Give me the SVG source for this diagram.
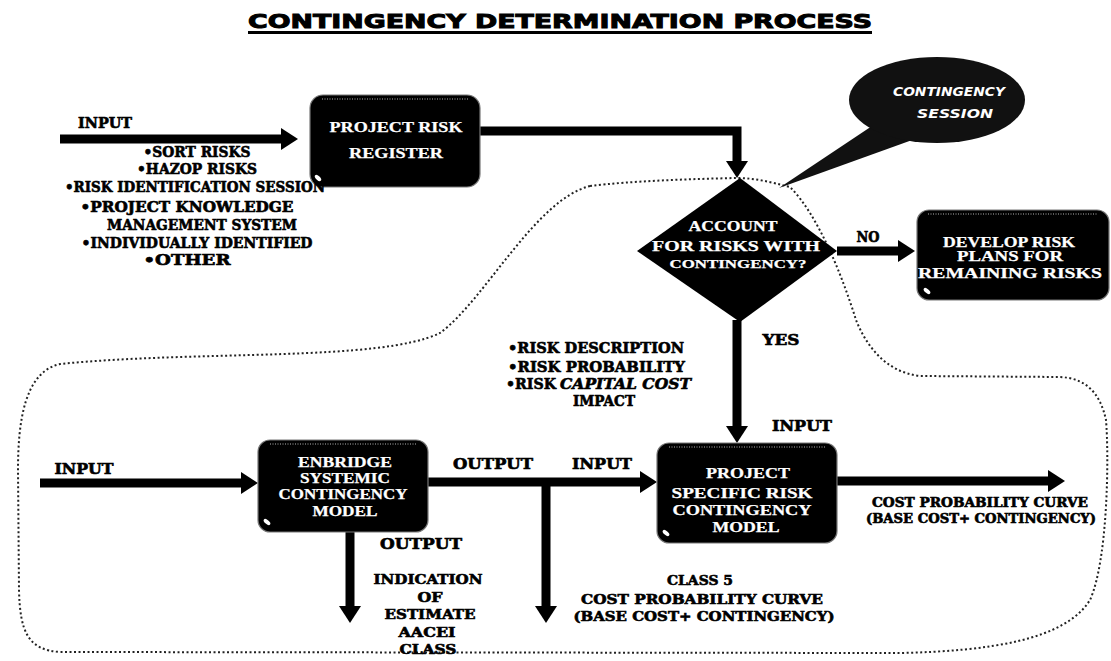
<svg xmlns="http://www.w3.org/2000/svg" width="1111" height="661" viewBox="0 0 1111 661">
<defs>
<marker id="ah" viewBox="0 -12 18 24" refX="0" refY="0" markerWidth="18" markerHeight="24" markerUnits="userSpaceOnUse" orient="auto">
<path d="M0,-11 L17,0 L0,11 Z" fill="#000"/>
</marker>
</defs>
<style>
.t{font-family:"DejaVu Serif","Liberation Serif",serif;font-weight:bold;fill:#000;stroke:#000;stroke-width:0.6;}
.w{font-family:"Liberation Serif","DejaVu Serif",serif;font-weight:bold;fill:#fff;stroke:#fff;stroke-width:0.25;}
.box{fill:#000;stroke:#777;stroke-width:1.2;}
.hl{fill:none;stroke:#fff;stroke-width:1;stroke-dasharray:1 1.5;opacity:0.7;}
.pin{fill:#fff;}
.c{fill:none;stroke:#000;stroke-width:9;stroke-linejoin:miter;marker-end:url(#ah);}
.dot{fill:none;stroke:#222;stroke-width:2;stroke-dasharray:2 2.5;}
</style>
<rect width="1111" height="661" fill="#fff"/>

<g id="title">
<text x="560" y="28" text-anchor="middle" font-family="DejaVu Sans, Liberation Sans, sans-serif" font-weight="bold" font-size="20" stroke="#000" stroke-width="1" textLength="624" lengthAdjust="spacingAndGlyphs">CONTINGENCY DETERMINATION PROCESS</text>
<rect x="248" y="31" width="624" height="3" fill="#000"/>
</g>

<g id="session-boundary">
<path class="dot" d="M590,186 C535,200 485,300 440,333 C380,362 200,350 60,364 C25,372 18,420 18,470 L19,590 C20,632 28,650 60,652 L900,653 C990,651 1065,640 1090,600 C1108,560 1109,455 1106,420 C1100,392 1085,378 1060,377 L920,376 C885,372 866,345 856,320 C842,275 818,215 790,187 C770,182 755,178 737,178 C690,179 630,181 590,186 Z"/>
</g>

<g id="callout">
<polygon points="872,126 779,188 915,139" fill="#111"/>
<ellipse cx="937" cy="100" rx="88" ry="43" fill="#111"/>
<text x="949" y="96" text-anchor="middle" font-family="DejaVu Sans, sans-serif" font-weight="bold" font-style="italic" font-size="13" fill="#fff" textLength="112" lengthAdjust="spacingAndGlyphs">CONTINGENCY</text>
<text x="955" y="118" text-anchor="middle" font-family="DejaVu Sans, sans-serif" font-weight="bold" font-style="italic" font-size="13" fill="#fff" textLength="76" lengthAdjust="spacingAndGlyphs">SESSION</text>
</g>

<g id="connectors">
<path class="c" d="M60,139 H281"/>
<path class="c" d="M480,131 H737 V161"/>
<path class="c" d="M837,251 H898"/>
<path class="c" d="M737,320 V426"/>
<path class="c" d="M40,483 H241"/>
<path class="c" d="M428,482 H640"/>
<path class="c" d="M546,482 V606"/>
<path class="c" d="M350,530 V606"/>
<path class="c" d="M837,481 H1048"/>
</g>

<g id="register">
<rect class="box" x="310" y="95" width="170" height="92" rx="13"/>
<line class="hl" x1="322" y1="99" x2="468" y2="99"/>
<ellipse class="pin" cx="318" cy="178" rx="4" ry="2" transform="rotate(45 318 178)"/>
<text class="w" x="396" y="132" text-anchor="middle" font-size="15" textLength="133" lengthAdjust="spacingAndGlyphs">PROJECT  RISK</text>
<text class="w" x="396" y="158" text-anchor="middle" font-size="15" textLength="94" lengthAdjust="spacingAndGlyphs">REGISTER</text>
</g>

<g id="decision">
<polygon points="740,178 837,251 740,322 637,251" fill="#000"/>
<text class="w" x="733" y="231" text-anchor="middle" font-size="14" textLength="89" lengthAdjust="spacingAndGlyphs">ACCOUNT</text>
<text class="w" x="736" y="251" text-anchor="middle" font-size="14" textLength="168" lengthAdjust="spacingAndGlyphs">FOR RISKS WITH</text>
<text class="w" x="738" y="268" text-anchor="middle" font-size="12.5" textLength="137" lengthAdjust="spacingAndGlyphs">CONTINGENCY?</text>
</g>

<g id="develop">
<rect class="box" x="917" y="210" width="192" height="90" rx="12"/>
<line class="hl" x1="928" y1="214" x2="1098" y2="214"/>
<ellipse class="pin" cx="927" cy="291" rx="4" ry="2" transform="rotate(40 927 291)"/>
<text class="w" x="1009" y="247" text-anchor="middle" font-size="14" textLength="132" lengthAdjust="spacingAndGlyphs">DEVELOP RISK</text>
<text class="w" x="1010" y="261" text-anchor="middle" font-size="14" textLength="106" lengthAdjust="spacingAndGlyphs">PLANS FOR</text>
<text class="w" x="1010" y="278" text-anchor="middle" font-size="14" textLength="184" lengthAdjust="spacingAndGlyphs">REMAINING RISKS</text>
</g>

<g id="enbridge">
<rect class="box" x="258" y="440" width="170" height="92" rx="12"/>
<line class="hl" x1="270" y1="444" x2="416" y2="444"/>
<ellipse class="pin" cx="267" cy="522" rx="4" ry="2" transform="rotate(40 267 522)"/>
<text class="w" x="345" y="467" text-anchor="middle" font-size="14" textLength="94" lengthAdjust="spacingAndGlyphs">ENBRIDGE</text>
<text class="w" x="345" y="483" text-anchor="middle" font-size="14" textLength="90" lengthAdjust="spacingAndGlyphs">SYSTEMIC</text>
<text class="w" x="343" y="499" text-anchor="middle" font-size="14" textLength="129" lengthAdjust="spacingAndGlyphs">CONTINGENCY</text>
<text class="w" x="345" y="516" text-anchor="middle" font-size="14" textLength="65" lengthAdjust="spacingAndGlyphs">MODEL</text>
</g>

<g id="specific">
<rect class="box" x="657" y="443" width="180" height="100" rx="12"/>
<line class="hl" x1="669" y1="447" x2="825" y2="447"/>
<ellipse class="pin" cx="666" cy="533" rx="4" ry="2" transform="rotate(40 666 533)"/>
<text class="w" x="748" y="478" text-anchor="middle" font-size="14" textLength="84" lengthAdjust="spacingAndGlyphs">PROJECT</text>
<text class="w" x="742" y="498" text-anchor="middle" font-size="14" textLength="141" lengthAdjust="spacingAndGlyphs">SPECIFIC RISK</text>
<text class="w" x="742" y="515" text-anchor="middle" font-size="14" textLength="139" lengthAdjust="spacingAndGlyphs">CONTINGENCY</text>
<text class="w" x="746" y="532" text-anchor="middle" font-size="14" textLength="67" lengthAdjust="spacingAndGlyphs">MODEL</text>
</g>

<g id="labels">
<text class="t" x="105" y="128" text-anchor="middle" font-size="14" textLength="54" lengthAdjust="spacingAndGlyphs">INPUT</text>
<text class="t" x="197" y="157" text-anchor="middle" font-size="14" textLength="107" lengthAdjust="spacingAndGlyphs">•SORT RISKS</text>
<text class="t" x="197" y="174" text-anchor="middle" font-size="14" textLength="120" lengthAdjust="spacingAndGlyphs">•HAZOP RISKS</text>
<text class="t" x="195" y="192" text-anchor="middle" font-size="14" textLength="260" lengthAdjust="spacingAndGlyphs">•RISK IDENTIFICATION SESSION</text>
<text class="t" x="187" y="212" text-anchor="middle" font-size="14" textLength="213" lengthAdjust="spacingAndGlyphs">•PROJECT KNOWLEDGE</text>
<text class="t" x="202" y="230" text-anchor="middle" font-size="14" textLength="190" lengthAdjust="spacingAndGlyphs">MANAGEMENT SYSTEM</text>
<text class="t" x="197" y="248" text-anchor="middle" font-size="14" textLength="231" lengthAdjust="spacingAndGlyphs">•INDIVIDUALLY IDENTIFIED</text>
<text class="t" x="187" y="265" text-anchor="middle" font-size="14" textLength="87" lengthAdjust="spacingAndGlyphs">•OTHER</text>

<text class="t" x="868" y="242" text-anchor="middle" font-size="14" textLength="23" lengthAdjust="spacingAndGlyphs">NO</text>
<text class="t" x="781" y="345" text-anchor="middle" font-size="14" textLength="37" lengthAdjust="spacingAndGlyphs">YES</text>

<text class="t" x="508" y="353" font-size="14" textLength="176" lengthAdjust="spacingAndGlyphs">•RISK DESCRIPTION</text>
<text class="t" x="508" y="372" font-size="14" textLength="177" lengthAdjust="spacingAndGlyphs">•RISK PROBABILITY</text>
<text class="t" x="506" y="389" font-size="14" textLength="50" lengthAdjust="spacingAndGlyphs">•RISK</text>
<text class="t" x="560" y="389" font-size="14" font-style="italic" textLength="131" lengthAdjust="spacingAndGlyphs">CAPITAL COST</text>
<text class="t" x="604" y="406" text-anchor="middle" font-size="14" textLength="62" lengthAdjust="spacingAndGlyphs">IMPACT</text>

<text class="t" x="802" y="431" text-anchor="middle" font-size="14" textLength="60" lengthAdjust="spacingAndGlyphs">INPUT</text>
<text class="t" x="84" y="474" text-anchor="middle" font-size="14" textLength="59" lengthAdjust="spacingAndGlyphs">INPUT</text>
<text class="t" x="493" y="469" text-anchor="middle" font-size="14" textLength="80" lengthAdjust="spacingAndGlyphs">OUTPUT</text>
<text class="t" x="602" y="469" text-anchor="middle" font-size="14" textLength="60" lengthAdjust="spacingAndGlyphs">INPUT</text>
<text class="t" x="421" y="549" text-anchor="middle" font-size="14" textLength="82" lengthAdjust="spacingAndGlyphs">OUTPUT</text>

<text class="t" x="428" y="584" text-anchor="middle" font-size="13" textLength="109" lengthAdjust="spacingAndGlyphs">INDICATION</text>
<text class="t" x="430" y="602" text-anchor="middle" font-size="13" textLength="25" lengthAdjust="spacingAndGlyphs">OF</text>
<text class="t" x="430" y="619" text-anchor="middle" font-size="13" textLength="91" lengthAdjust="spacingAndGlyphs">ESTIMATE</text>
<text class="t" x="427" y="637" text-anchor="middle" font-size="13" textLength="57" lengthAdjust="spacingAndGlyphs">AACEI</text>
<text class="t" x="428" y="654" text-anchor="middle" font-size="13" textLength="57" lengthAdjust="spacingAndGlyphs">CLASS</text>

<text class="t" x="700" y="585" text-anchor="middle" font-size="13" textLength="66" lengthAdjust="spacingAndGlyphs">CLASS 5</text>
<text class="t" x="702" y="604" text-anchor="middle" font-size="13" textLength="242" lengthAdjust="spacingAndGlyphs">COST PROBABILITY CURVE</text>
<text class="t" x="704" y="621" text-anchor="middle" font-size="13" textLength="261" lengthAdjust="spacingAndGlyphs">(BASE COST+ CONTINGENCY)</text>

<text class="t" x="980" y="507" text-anchor="middle" font-size="12" textLength="216" lengthAdjust="spacingAndGlyphs">COST PROBABILITY CURVE</text>
<text class="t" x="981" y="523" text-anchor="middle" font-size="12" textLength="230" lengthAdjust="spacingAndGlyphs">(BASE COST+ CONTINGENCY)</text>
</g>
</svg>
